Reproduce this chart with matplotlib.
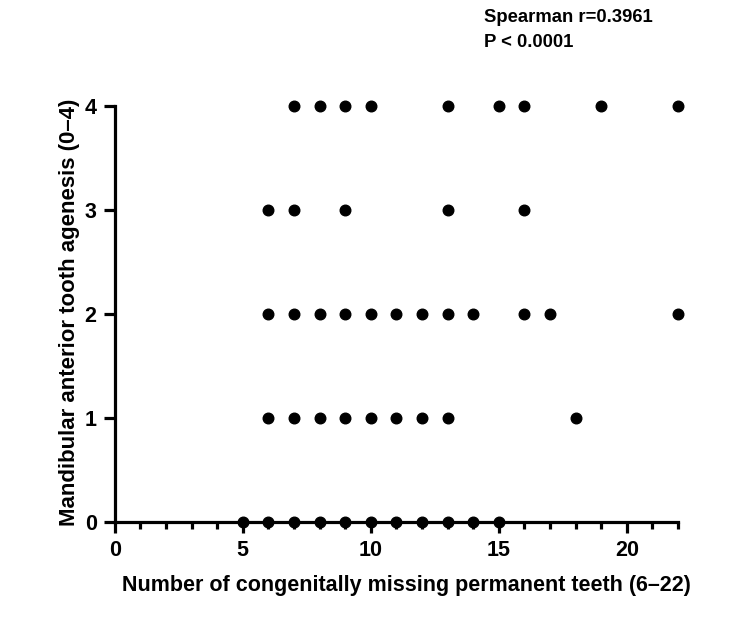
import matplotlib.pyplot as plt

plt.rcParams["font.family"] = ["Liberation Sans", "DejaVu Sans"]
plt.rcParams["font.weight"] = "bold"

# points, one list per y level
x_y0 = [5, 6, 7, 8, 9, 10, 11, 12, 13, 14, 15]
x_y1 = [6, 7, 8, 9, 10, 11, 12, 13, 18]
x_y2 = [6, 7, 8, 9, 10, 11, 12, 13, 14, 16, 17, 22]
x_y3 = [6, 7, 9, 13, 16]
x_y4 = [7, 8, 9, 10, 13, 15, 16, 19, 22]
levels = [0, 1, 2, 3, 4]

xs = []
ys = []
for level, row in zip(levels, [x_y0, x_y1, x_y2, x_y3, x_y4]):
    xs += row
    ys += [level] * len(row)

fig = plt.figure(figsize=(7.5, 6.25), dpi=100)
ax = fig.add_axes([0.153, 0.165, 0.751, 0.665])

ax.scatter(xs, ys, s=58, color="black", clip_on=False, zorder=3)

ax.set_xlim(0, 22)
ax.set_ylim(0, 4)
ax.set_xticks([0, 5, 10, 15, 20])
ax.set_xticks(range(0, 23), minor=True)
ax.set_yticks([0, 1, 2, 3, 4])

for side in ["top", "right"]:
    ax.spines[side].set_visible(False)
for side in ["left", "bottom"]:
    ax.spines[side].set_linewidth(2.3)

ax.tick_params(which="major", width=2.3, length=8, labelsize=15.5, pad=5)
ax.tick_params(which="minor", width=2.3, length=5)
for lab in ax.get_xticklabels() + ax.get_yticklabels():
    lab.set_fontweight("bold")

ax.set_xlabel("Number of congenitally missing permanent teeth (6–22)", fontsize=15.5, fontweight="bold")
ax.set_ylabel("Mandibular anterior tooth agenesis (0–4)", fontsize=16, fontweight="bold")
ax.xaxis.set_label_coords(0.517, -0.127)
ax.yaxis.set_label_coords(-0.061, 0.505)

fig.text(0.645, 0.972, "Spearman r=0.3961", fontsize=13.3, fontweight="bold", va="center")
fig.text(0.645, 0.932, "P < 0.0001", fontsize=13.3, fontweight="bold", va="center")

fig.savefig("out.png", dpi=100)
